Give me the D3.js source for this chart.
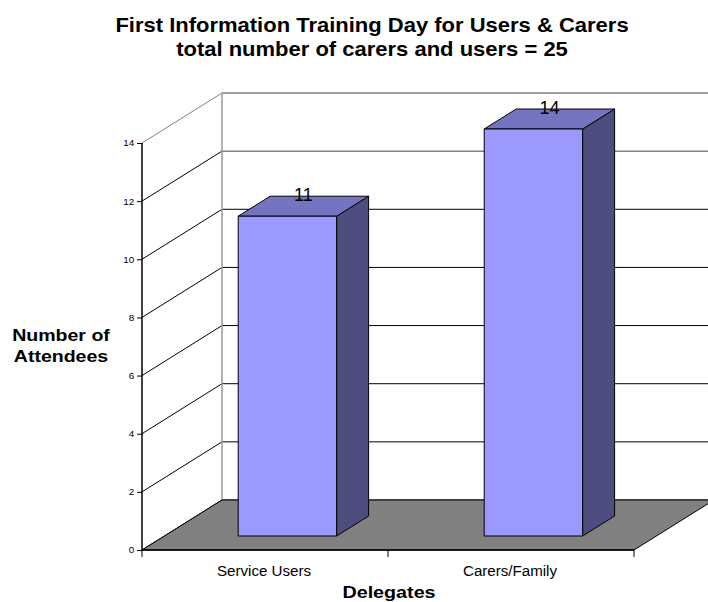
<!DOCTYPE html>
<html>
<head>
<meta charset="utf-8">
<script src="https://d3js.org/d3.v7.min.js"></script>
<style>
body { margin: 0; background: #fff; }
svg text { font-family: "Liberation Sans", Arial, sans-serif; fill: #000; }
.title { font-size: 20px; font-weight: bold; }
.axis-title { font-size: 17px; font-weight: bold; }
.y.axis text { font-size: 9px; }
.cat { font-size: 14px; }
.value { font-size: 18px; }
</style>
</head>
<body>
<script>

var categories = ["Service Users", "Carers/Family"];
var values = [11, 14];
var yTicks = [0, 2, 4, 6, 8, 10, 12, 14];

var width = 708, height = 602;

// 3d offset of the back wall
var depthX = 80, depthY = -50;
var barFront = 0.28, barBack = 0.68;

var svg = d3.select("body").append("svg")
    .attr("width", width)
    .attr("height", height);

var yScale = d3.scaleLinear()
	.domain([0, 14])
	.range([550, 143]);

var xScale = d3.scaleBand()
	.domain(categories)
	.range([142, 634])
	.paddingInner(0.6)
	.paddingOuter(0.3);

var x0 = 142, x1 = 634, y0 = yScale(0);

function pt(x, y, d) {
	return [x + depthX * d, y + depthY * d];
}

// text in the original is stretched sideways a bit
function label(cls, x, y, s, txt) {
	return svg.append("text")
		.attr("class", cls)
		.attr("transform", "translate(" + x + "," + y + ") scale(" + s + ",1)")
		.attr("text-anchor", "middle")
		.text(txt);
}

// back wall gridlines
svg.append("g").selectAll("line")
	.data(yTicks)
  .enter().append("line")
	.attr("x1", x0 + depthX).attr("x2", x1 + depthX)
	.attr("y1", function(d) { return yScale(d) + depthY; })
	.attr("y2", function(d) { return yScale(d) + depthY; })
	.style("stroke", function(d) { return d >= 12 ? "#808080" : "#000"; })
	.style("stroke-width", function(d) { return d >= 12 ? 1.5 : 1; });

// side wall diagonals
svg.append("g").selectAll("line")
	.data(yTicks)
  .enter().append("line")
	.attr("x1", x0).attr("y1", function(d) { return yScale(d); })
	.attr("x2", x0 + depthX).attr("y2", function(d) { return yScale(d) + depthY; })
	.style("stroke", function(d) { return d == 14 ? "#808080" : "#000"; })
	.style("stroke-width", 1);

// back wall left edge
svg.append("line")
	.attr("x1", x0 + depthX).attr("x2", x0 + depthX)
	.attr("y1", yScale(14) + depthY).attr("y2", y0 + depthY)
	.style("stroke", "#999").style("stroke-width", 1.5);

// floor
var floor = [pt(x0, y0, 0), pt(x1, y0, 0), pt(x1, y0, 1), pt(x0, y0, 1)];
svg.append("polygon")
	.attr("points", floor.map(function(p) { return p.join(","); }).join(" "))
	.style("fill", "#808080")
	.style("stroke", "#000")
	.style("stroke-width", 1);

// bars
var bars = svg.selectAll(".bar")
	.data(values)
  .enter().append("g")
	.attr("class", "bar");

function poly(g, pts, fill) {
	g.append("polygon")
		.attr("points", pts.map(function(p) { return p.join(","); }).join(" "))
		.style("fill", fill)
		.style("stroke", "#000")
		.style("stroke-width", 1)
		.style("stroke-linejoin", "round");
}

bars.each(function(v, i) {
	var g = d3.select(this);
	var bx0 = xScale(categories[i]), bx1 = bx0 + xScale.bandwidth();
	var yt = yScale(v);
	// side
	poly(g, [pt(bx1, y0, barFront), pt(bx1, yt, barFront), pt(bx1, yt, barBack), pt(bx1, y0, barBack)], "#4d4d80");
	// top
	poly(g, [pt(bx0, yt, barFront), pt(bx1, yt, barFront), pt(bx1, yt, barBack), pt(bx0, yt, barBack)], "#7474c0");
	// front
	poly(g, [pt(bx0, y0, barFront), pt(bx1, y0, barFront), pt(bx1, yt, barFront), pt(bx0, yt, barFront)], "#9999ff");
	// value label
	var c = pt((bx0 + bx1) / 2, yt, (barFront + barBack) / 2);
	g.append("text")
		.attr("class", "value")
		.attr("x", c[0])
		.attr("y", c[1] - 5)
		.attr("text-anchor", "middle")
		.text(v);
});

// y axis
var yAxis = d3.axisLeft(yScale)
	.tickValues(yTicks)
	.tickSize(5)
	.tickPadding(2);

var yg = svg.append("g")
	.attr("class", "y axis")
	.attr("transform", "translate(" + x0 + ",0)")
	.call(yAxis);
yg.select(".domain").remove();
yg.selectAll(".tick line").style("stroke", "#000");
yg.selectAll(".tick text").attr("transform", "scale(1.1,1)");
yg.append("line")
	.attr("y1", yScale(14)).attr("y2", y0)
	.style("stroke", "#000").style("stroke-width", 1.5);

// x axis ticks at band edges
var edges = [x0, (x0 + x1) / 2, x1];
svg.append("g").selectAll("line")
	.data(edges)
  .enter().append("line")
	.attr("x1", function(d) { return d; }).attr("x2", function(d) { return d; })
	.attr("y1", y0).attr("y2", y0 + 7)
	.style("stroke", "#000");
svg.append("line")
	.attr("x1", x0).attr("x2", x1)
	.attr("y1", y0).attr("y2", y0)
	.style("stroke", "#000").style("stroke-width", 1.5);

categories.forEach(function(d) {
	label("cat", xScale(d) + xScale.bandwidth() / 2 - 1, 576, 1.08, d);
});

// titles
label("title", 372, 32, 1.1, "First Information Training Day for Users & Carers");
label("title", 372, 56, 1.1, "total number of carers and users = 25");

label("axis-title", 389, 598, 1.16, "Delegates");
label("axis-title", 61, 341, 1.15, "Number of");
label("axis-title", 61, 362, 1.15, "Attendees");

</script>
</body>
</html>
